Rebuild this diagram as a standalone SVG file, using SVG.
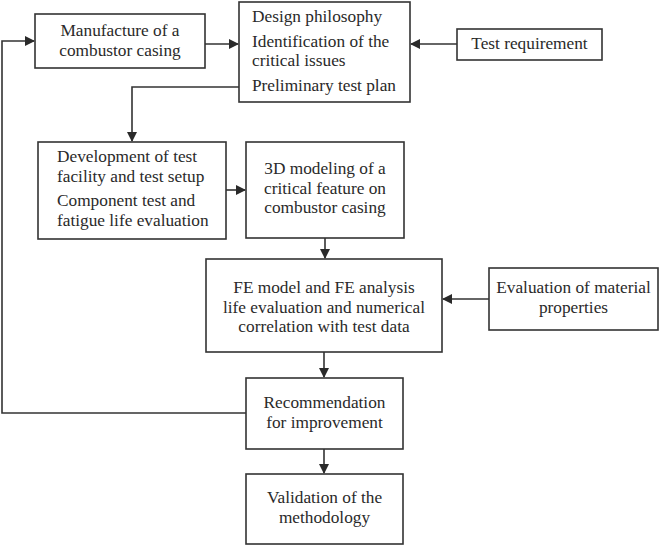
<svg xmlns="http://www.w3.org/2000/svg" width="661" height="546" viewBox="0 0 661 546">
<style>
.box{fill:#fff;stroke:#333;stroke-width:1.6}
.t{font-family:"Liberation Serif","Times New Roman",serif;font-size:17.3px;fill:#2a2a2a}
.c{text-anchor:middle}
.ln{fill:none;stroke:#333;stroke-width:1.6}
</style>
<defs>
<marker id="ah" markerWidth="10" markerHeight="10" refX="9" refY="5" orient="auto" markerUnits="userSpaceOnUse">
<path d="M0,0 L10,5 L0,10 Z" fill="#2a2a2a"/>
</marker>
</defs>
<rect width="661" height="546" fill="#fff"/>
<g id="connectors">
<path class="ln" d="M205,44 H238" marker-end="url(#ah)"/>
<path class="ln" d="M457,44 H411" marker-end="url(#ah)"/>
<path class="ln" d="M239,87 H132 V141" marker-end="url(#ah)"/>
<path class="ln" d="M226,190 H245" marker-end="url(#ah)"/>
<path class="ln" d="M325,238 V258" marker-end="url(#ah)"/>
<path class="ln" d="M489,299 H443" marker-end="url(#ah)"/>
<path class="ln" d="M324,352 V377" marker-end="url(#ah)"/>
<path class="ln" d="M246,413 H2 V41 H34" marker-end="url(#ah)"/>
<path class="ln" d="M324,449 V473" marker-end="url(#ah)"/>
</g>
<g id="manufacture">
<rect class="box" x="35" y="14" width="170" height="54"/>
<text class="t c" x="120" y="36">Manufacture of a</text>
<text class="t c" x="120" y="56">combustor casing</text>
</g>
<g id="design">
<rect class="box" x="239" y="2" width="171" height="100"/>
<text class="t" x="252" y="22">Design philosophy</text>
<text class="t" x="252" y="47">Identification of the</text>
<text class="t" x="252" y="66">critical issues</text>
<text class="t" x="252" y="91">Preliminary test plan</text>
</g>
<g id="testreq">
<rect class="box" x="457" y="29" width="145" height="31"/>
<text class="t c" x="529.5" y="49">Test requirement</text>
</g>
<g id="development">
<rect class="box" x="38" y="142" width="188" height="97"/>
<text class="t" x="57" y="162">Development of test</text>
<text class="t" x="57" y="182">facility and test setup</text>
<text class="t" x="57" y="206">Component test and</text>
<text class="t" x="57" y="226">fatigue life evaluation</text>
</g>
<g id="modeling">
<rect class="box" x="246" y="142" width="158" height="96"/>
<text class="t c" x="325" y="174">3D modeling of a</text>
<text class="t c" x="325" y="194">critical feature on</text>
<text class="t c" x="325" y="213">combustor casing</text>
</g>
<g id="fe">
<rect class="box" x="206" y="259" width="236" height="93"/>
<text class="t c" x="324" y="293">FE model and FE analysis</text>
<text class="t c" x="324" y="313">life evaluation and numerical</text>
<text class="t c" x="324" y="332">correlation with test data</text>
</g>
<g id="material">
<rect class="box" x="489" y="268" width="169" height="62"/>
<text class="t c" x="573.5" y="293">Evaluation of material</text>
<text class="t c" x="573.5" y="313">properties</text>
</g>
<g id="recommendation">
<rect class="box" x="246" y="378" width="157" height="71"/>
<text class="t c" x="324.5" y="408">Recommendation</text>
<text class="t c" x="324.5" y="428">for improvement</text>
</g>
<g id="validation">
<rect class="box" x="246" y="474" width="157" height="70"/>
<text class="t c" x="324.5" y="503">Validation of the</text>
<text class="t c" x="324.5" y="523">methodology</text>
</g>
</svg>
